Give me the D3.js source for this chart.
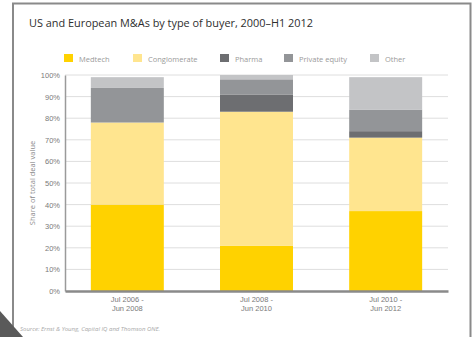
<!DOCTYPE html>
<html>
<head>
<meta charset="utf-8">
<script src="https://cdn.jsdelivr.net/npm/d3@7"></script>
<style>
  html, body { margin: 0; padding: 0; background: #fff; }
  svg { display: block; font-family: "Open Sans", "DejaVu Sans", sans-serif; }
</style>
</head>
<body>
<svg id="chart" width="474" height="337"></svg>
<script>
// Periods, buyer types and their share of total deal value (%)
const periods = [["Jul 2006 -", "Jun 2008"], ["Jul 2008 -", "Jun 2010"], ["Jul 2010 -", "Jun 2012"]];
const buyerTypes = ["Medtech", "Conglomerate", "Pharma", "Private equity", "Other"];
const medtech = [40, 21, 37];
const conglomerate = [38, 62, 34];
const pharma = [0, 8, 3];
const privateEquity = [16, 7, 10];
const other = [5, 2, 15];
const yTicks = [0, 10, 20, 30, 40, 50, 60, 70, 80, 90, 100];
const colors = ["#FFD200", "#FFE58F", "#6D6E71", "#939598", "#C3C4C6"];

const seriesValues = [medtech, conglomerate, pharma, privateEquity, other];
const rows = periods.map((p, i) => {
  const r = { key: i };
  buyerTypes.forEach((b, j) => r[b] = seriesValues[j][i]);
  return r;
});

const svg = d3.select("#chart");
const plot = { left: 65, right: 448, top: 75, bottom: 291 };

// Frame around the chart
svg.append("path")
  .attr("d", "M13,337 V3.5 H470.5 V337")
  .attr("fill", "none").attr("stroke", "#8a8a8a").attr("stroke-width", 2);
// Corner tab
svg.append("path").attr("d", "M0,311 L23,337 L0,337 Z").attr("fill", "#5a5a5a");

svg.append("text")
  .attr("x", 29).attr("y", 27)
  .attr("font-size", 10.9).attr("fill", "#2e2e2e")
  .text("US and European M&As by type of buyer, 2000–H1 2012");

// Legend
const legendX = [64, 133, 220, 284, 370];
const legend = svg.append("g");
buyerTypes.forEach((b, i) => {
  legend.append("rect").attr("x", legendX[i]).attr("y", 54).attr("width", 9).attr("height", 8).attr("fill", colors[i]);
  legend.append("text").attr("x", legendX[i] + 15).attr("y", 61.5)
    .attr("font-size", 7.5).attr("fill", "#9a9a9a").text(b);
});

const x = d3.scaleBand().domain(d3.range(periods.length))
  .range([plot.left, plot.right]).paddingInner(0.435).paddingOuter(0.2);
const y = d3.scaleLinear().domain([0, 100]).range([plot.bottom, plot.top]);

// Gridlines
svg.append("g").selectAll("line").data(yTicks.slice(1)).join("line")
  .attr("x1", plot.left).attr("x2", plot.right)
  .attr("y1", d => y(d)).attr("y2", d => y(d))
  .attr("stroke", "#dedede").attr("stroke-width", 1);

// Y axis
const yAxis = svg.append("g").attr("transform", `translate(${plot.left},0)`)
  .call(d3.axisLeft(y).tickValues(yTicks).tickFormat(d => d + "%").tickSize(0).tickPadding(5));
yAxis.select(".domain").attr("stroke", "#9a9a9a").attr("stroke-width", 1.5);
yAxis.selectAll("text").attr("font-size", 7.5).attr("fill", "#7a7a7a").attr("font-family", "inherit");

svg.append("text")
  .attr("transform", `translate(35,${(plot.top + plot.bottom) / 2}) rotate(-90)`)
  .attr("text-anchor", "middle").attr("font-size", 7.5).attr("fill", "#8a8a8a")
  .text("Share of total deal value");

// Stacked bars
const stack = d3.stack().keys(buyerTypes)(rows);
svg.append("g").selectAll("g").data(stack).join("g")
  .attr("fill", (d, i) => colors[i])
  .selectAll("rect").data(d => d).join("rect")
  .attr("x", d => x(d.data.key)).attr("width", x.bandwidth())
  .attr("y", d => y(d[1])).attr("height", d => y(d[0]) - y(d[1]));

// X axis with two-line period labels
const xAxis = svg.append("g").attr("transform", `translate(0,${plot.bottom})`)
  .call(d3.axisBottom(x).tickSize(0).tickFormat(() => ""));
xAxis.select(".domain").attr("stroke", "#8a8a8a").attr("stroke-width", 2.5);
xAxis.selectAll(".tick").each(function(d) {
  const t = d3.select(this).select("text").attr("y", 0).attr("dy", null)
    .attr("font-size", 7.5).attr("fill", "#7a7a7a").attr("font-family", "inherit");
  periods[d].forEach((line, k) => {
    t.append("tspan").attr("x", 0).attr("y", 11 + k * 9).attr("fill", "#7a7a7a").text(line);
  });
});

svg.append("text")
  .attr("x", 20).attr("y", 331)
  .attr("font-size", 6).attr("font-style", "italic").attr("fill", "#a8a8a8")
  .text("Source: Ernst & Young, Capital IQ and Thomson ONE.");
</script>
</body>
</html>
